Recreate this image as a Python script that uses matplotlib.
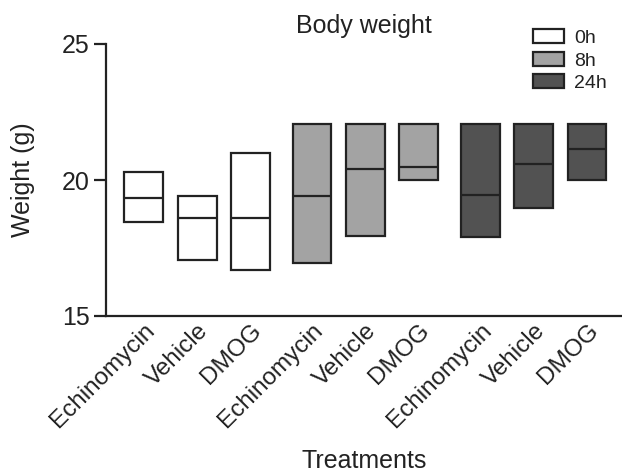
import matplotlib
matplotlib.use("Agg")
import matplotlib.pyplot as plt
from matplotlib.patches import Patch

plt.rcParams['font.family'] = ['Liberation Sans', 'DejaVu Sans']

treatments = ["Echinomycin", "Vehicle", "DMOG"]
timepoints = ["0h", "8h", "24h"]
colors = ["#ffffff", "#a3a3a3", "#525252"]

# min, max, median per time point, per treatment
mins = {
    "0h": [18.46, 17.07, 16.70],
    "8h": [16.95, 17.94, 20.00],
    "24h": [17.90, 18.96, 20.00],
}
maxs = {
    "0h": [20.29, 19.41, 21.01],
    "8h": [22.06, 22.06, 22.06],
    "24h": [22.06, 22.06, 22.06],
}
meds = {
    "0h": [19.32, 18.60, 18.59],
    "8h": [19.43, 20.42, 20.46],
    "24h": [19.45, 20.60, 21.15],
}

W, H = 622, 474
fig = plt.figure(figsize=(W / 100, H / 100), dpi=100)
ax = fig.add_axes([105.7 / W, 1 - 316 / H, 1 - 105.7 / W, (316 - 44) / H])

edge = "#222222"
lw = 1.6
group_gap = 3.15
box_w = 0.725
positions, labels = [], []
for g, tp in enumerate(timepoints):
    xs = [g * group_gap + i for i in range(len(treatments))]
    lo = mins[tp]
    hi = maxs[tp]
    md = meds[tp]
    ax.bar(xs, [h - l for h, l in zip(hi, lo)], bottom=lo, width=box_w,
           color=colors[g], edgecolor=edge, linewidth=lw, zorder=2)
    ax.hlines(md, [x - box_w / 2 for x in xs], [x + box_w / 2 for x in xs],
              colors=edge, linewidth=lw, zorder=3)
    positions += xs
    labels += treatments

ax.set_xlim(-0.713, 8.955)
ax.set_ylim(15, 25)
ax.set_yticks([15, 20, 25])
ax.set_xticks(positions)
ax.set_xticklabels(labels, rotation=45, ha="right", va="top",
                   rotation_mode="anchor", fontsize=17.5, color="#222222")
ax.tick_params(axis="x", length=0, pad=2.5)
ax.tick_params(axis="y", length=8.6, width=1.6, pad=3, labelsize=18,
               colors="#222222")
for s in ["top", "right"]:
    ax.spines[s].set_visible(False)
for s in ["left", "bottom"]:
    ax.spines[s].set_linewidth(1.6)
    ax.spines[s].set_color("#222222")

ax.set_ylabel("Weight (g)", fontsize=18, color="#222222")
ax.yaxis.set_label_coords((35 - 105.7) / 516.3, 0.5)
ax.set_xlabel("Treatments", fontsize=18, color="#222222")
ax.xaxis.set_label_coords(0.5, -0.49)
ax.set_title("Body weight", fontsize=18, color="#222222", pad=0, y=1.04)

handles = [Patch(facecolor=c, edgecolor=edge, linewidth=1.6) for c in colors]
fig.legend(handles, timepoints, loc="upper left",
           bbox_to_anchor=(533 / W, 1 - 29.5 / H), frameon=False,
           fontsize=14, handlelength=1.6, handleheight=0.7,
           handletextpad=0.5, labelspacing=0.25, borderpad=0,
           borderaxespad=0, labelcolor="#222222")

fig.savefig("out.png", dpi=100)
